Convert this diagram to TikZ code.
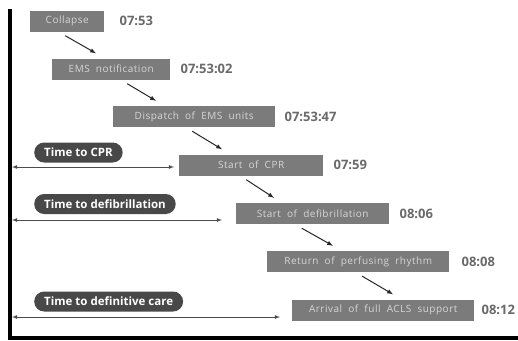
\documentclass[tikz,border=0pt]{standalone}
\usepackage{fontspec}
\setsansfont{Open Sans}
\newfontfamily\boxfont{Open Sans}[LetterSpace=5,WordSpace=2]
\usetikzlibrary{arrows,positioning}
\definecolor{boxgray}{HTML}{7B7B7B}
\definecolor{boxtext}{HTML}{D6D6D6}
\definecolor{timegray}{HTML}{6A6A6A}
\definecolor{pillgray}{HTML}{484848}

\begin{document}
\begin{tikzpicture}[x=1pt,y=-1pt,
event/.style={rectangle,fill=boxgray,text=boxtext,
minimum height=21pt,inner sep=0pt,anchor=west,
font=\boxfont\fontsize{10}{11}\selectfont},
time/.style={text=timegray,inner sep=0pt,
font=\sffamily\bfseries\fontsize{13}{15}\selectfont},
interval/.style={rectangle,rounded corners=10pt,fill=pillgray,text=white,
minimum height=20pt,inner xsep=10pt,inner ysep=0pt,anchor=west,
font=\sffamily\bfseries\fontsize{11.5}{13}\selectfont},
flow/.style={-latex,line width=1pt,black!85},
span/.style={latex-latex,line width=0.8pt,black!70},
]
\useasboundingbox (0,0) rectangle (518,340);

% time axis
\coordinate (top) at (10,9);
\coordinate (corner) at (10,338);
\coordinate (right) at (518,338);
\draw[line width=3.5pt] (top) -- (corner) -- (right);

% events
\node (c1) [event,minimum width=74pt] at (30,21) {Collapse};
\node (c2) [event,minimum width=118pt] at (52,69) {EMS notification};
\node (c3) [event,minimum width=162pt] at (113,116.5) {Dispatch of EMS units};
\node (c4) [event,minimum width=144pt] at (179,165) {Start of CPR};
\node (c5) [event,minimum width=153pt] at (236,213.5) {Start of defibrillation};
\node (c6) [event,minimum width=182pt] at (267,261.5) {Return of perfusing rhythm};
\node (c7) [event,minimum width=182pt] at (292,310) {Arrival of full ACLS support};

\node (t1) [time,right=15pt of c1] {07:53};
\node (t2) [time,right=10pt of c2] {07:53:02};
\node (t3) [time,right=9pt of c3] {07:53:47};
\node (t4) [time,right=10pt of c4] {07:59};
\node (t5) [time,right=10pt of c5] {08:06};
\node (t6) [time,right=12pt of c6] {08:08};
\node (t7) [time,right=7pt of c7] {08:12};

\foreach \a/\b/\sx/\ex in {c1/c2/-2/44,c2/c3/16/43,c3/c4/-2/43,
  c4/c5/-5/38,c5/c6/-11/66,c6/c7/4/101}
  \draw[flow] ([shift={(\sx,4)}]\a.south) -- ([shift={(\ex,-5)}]\b.north west);

% intervals
\node (i1) [interval] at (34,152.5) {Time to CPR};
\node (i2) [interval] at (34,204) {Time to defibrillation};
\node (i3) [interval] at (34,301.5) {Time to definitive care};

\coordinate (s1) at (12,167);
\coordinate (s2) at (12,220);
\coordinate (s3) at (12,317);
\draw[span] (s1) -- ([xshift=-5pt]s1 -| c4.west);
\draw[span] (s2) -- ([xshift=-14pt]s2 -| c5.west);
\draw[span] (s3) -- ([xshift=-12pt]s3 -| c7.west);
\end{tikzpicture}
\end{document}
